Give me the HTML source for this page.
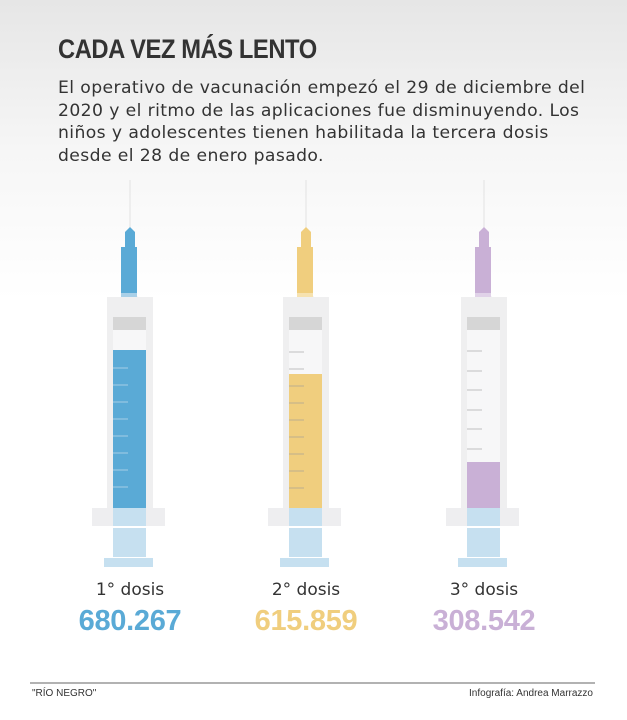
<!DOCTYPE html><html><head><style>
body{margin:0;width:627px;height:720px;overflow:hidden;font-family:"Liberation Sans",sans-serif;background:linear-gradient(#e6e6e6 0px,#f6f6f6 150px,#fff 300px);position:relative}
.t{position:absolute;left:58px;top:34px;font-size:27px;font-weight:bold;color:#333;letter-spacing:-0.5px;transform:scaleX(0.88);transform-origin:left}
.p{position:absolute;left:58px;top:77px;width:600px;font-family:"DejaVu Sans",sans-serif;font-size:17.2px;line-height:22.6px;color:#333;letter-spacing:0.4px;white-space:nowrap}
.l{position:absolute;width:200px;text-align:center;color:#333;top:580px;font-family:"DejaVu Sans",sans-serif;font-size:17px}
.n{position:absolute;width:200px;text-align:center;font-size:29px;font-weight:bold;top:605px;letter-spacing:-0.3px}
.f{position:absolute;top:688px;font-size:10px;color:#333}
</style></head><body>
<div class="t">CADA VEZ MÁS LENTO</div>
<div class="p">El operativo de vacunación empezó el 29 de diciembre del<br>2020 y el ritmo de las aplicaciones fue disminuyendo. Los<br>niños y adolescentes tienen habilitada la tercera dosis<br>desde el 28 de enero pasado.</div>
<svg width="627" height="720" style="position:absolute;left:0;top:0">
<defs>
<g id="s">
<line x1="0" y1="180" x2="0" y2="228" stroke="#e2e2e2" stroke-width="1"/>
<rect x="-23" y="297" width="46" height="212" fill="#efeff0"/>
<polygon points="-7,296 7,296 23,312 -23,312" fill="#efeff0"/>
<rect x="-17" y="330" width="33" height="178" fill="#f7f7f8"/>
<rect x="-17" y="317" width="33" height="13" fill="#d6d6d6"/>
<rect x="-38" y="508" width="73" height="18" fill="#eeeef0"/>
<rect x="-17" y="508" width="33" height="18" fill="#c6e0f0"/>
<rect x="-17" y="528" width="33" height="29" fill="#c6e0f0"/>
<rect x="-26" y="558" width="49" height="9" fill="#c6e0f0"/>
</g>
</defs>
<use href="#s" x="130"/><use href="#s" x="306"/><use href="#s" x="484"/>
<g fill="#5aaad6"><polygon points="125,247 125,232 130,227 135,232 135,247"/><rect x="121" y="247" width="16" height="47"/><rect x="113" y="350" width="33" height="158"/></g>
<rect x="121" y="293" width="16" height="4" fill="#a9d0e8"/>
<g fill="#f0ce7e"><polygon points="301,247 301,232 306,227 311,232 311,247"/><rect x="297" y="247" width="16" height="47"/><rect x="289" y="374" width="33" height="134"/></g>
<rect x="297" y="293" width="16" height="4" fill="#f6e2b0"/>
<g fill="#c9b0d6"><polygon points="479,247 479,232 484,227 489,232 489,247"/><rect x="475" y="247" width="16" height="47"/><rect x="467" y="462" width="33" height="46"/></g>
<rect x="475" y="293" width="16" height="4" fill="#e0d2e8"/>
<g stroke="#9a9a9a" stroke-width="1" opacity="0.6">
<path d="M113 368h15M113 385h15M113 402h15M113 419h15M113 436h15M113 453h15M113 470h15M113 487h15" stroke="#d8e8f2"/>
<path d="M289 352h15M289 369h15M289 386h15M289 403h15M289 420h15M289 437h15M289 454h15M289 471h15M289 488h15"/>
<path d="M467 351h15M467 371h15M467 390h15M467 410h15M467 429h15M467 449h15"/>
</g>
<line x1="30" y1="683" x2="595" y2="683" stroke="#666" stroke-width="1"/>
</svg>
<div class="l" style="left:30px">1° dosis</div><div class="n" style="left:30px;color:#5aaad6">680.267</div>
<div class="l" style="left:206px">2° dosis</div><div class="n" style="left:206px;color:#f0ce7e">615.859</div>
<div class="l" style="left:384px">3° dosis</div><div class="n" style="left:384px;color:#c9b0d6">308.542</div>
<div class="f" style="left:32px">"RÍO NEGRO"</div>
<div class="f" style="right:34px">Infografía: Andrea Marrazzo</div>
</body></html>
